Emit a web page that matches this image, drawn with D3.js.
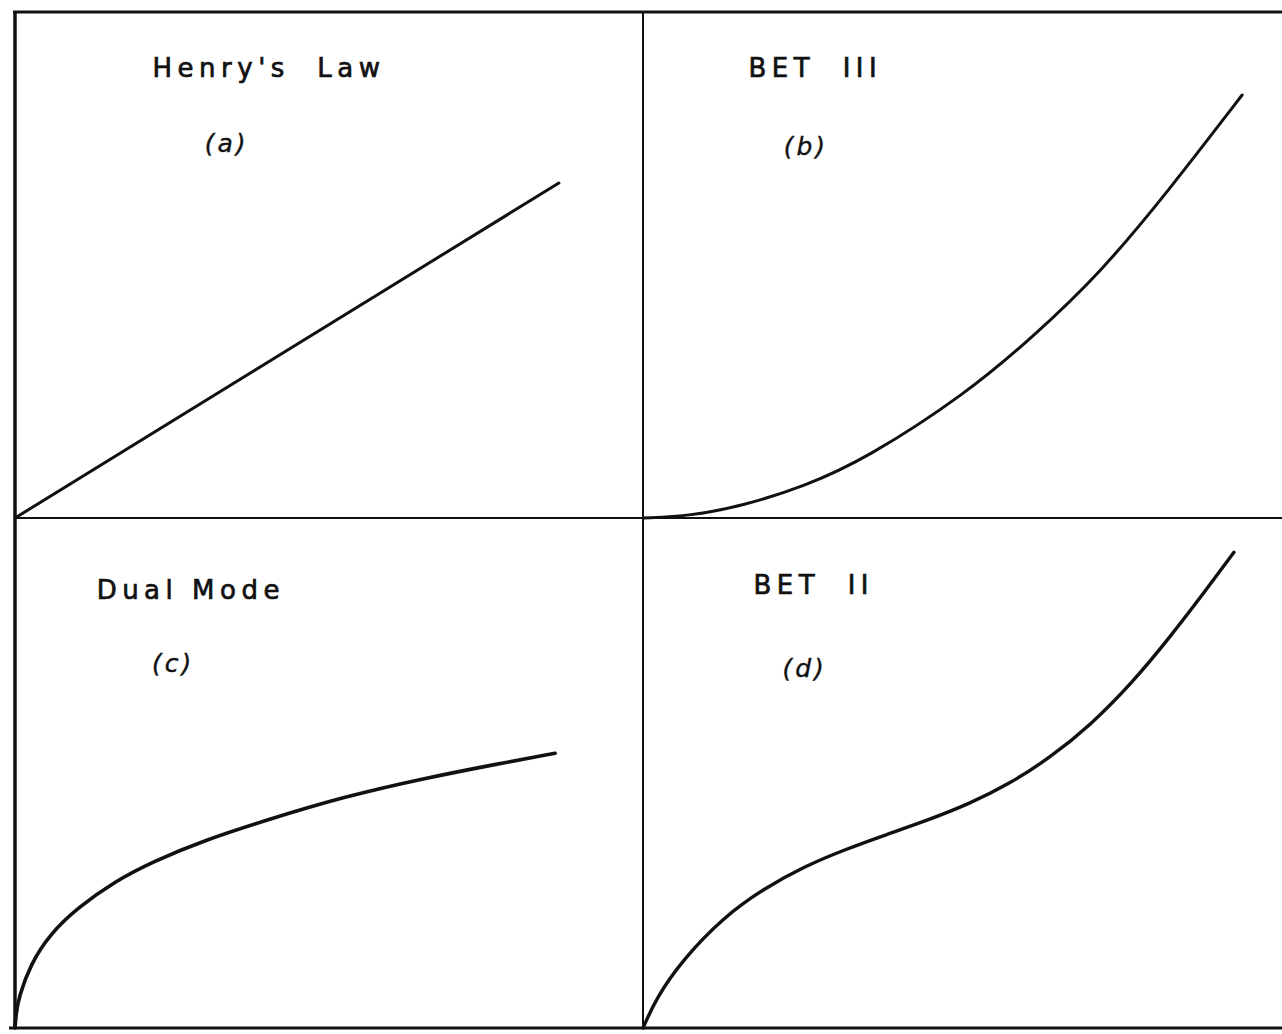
<!DOCTYPE html>
<html>
<head>
<meta charset="utf-8">
<script src="https://cdn.jsdelivr.net/npm/d3@7"></script>
<style>
  html, body { margin: 0; padding: 0; background: #fff; }
  svg { display: block; }
  .title { font-family: "DejaVu Sans", sans-serif; font-size: 26px; letter-spacing: 5.5px; fill: #111; stroke: #111; stroke-width: 0.7px; white-space: pre; }
  .tag { font-family: "DejaVu Sans", sans-serif; font-style: italic; font-size: 25px; letter-spacing: 3px; fill: #111; stroke: #111; stroke-width: 0.4px; white-space: pre; }
</style>
</head>
<body>
<svg id="chart" width="1282" height="1034"></svg>
<script>
// Sorption isotherm shapes: relative uptake vs. relative pressure (arbitrary units 0–10)

const panelIds = ["a", "b", "c", "d"];
const panelTitles = ["Henry's  Law", "BET  III", "Dual Mode", "BET  II"];
const panelTags = ["(a)", "(b)", "(c)", "(d)"];

// (a) Henry's law: linear
const henryX = [0, 8.66];
const henryY = [0, 6.62];

// (b) BET type III: convex from the origin
const bet3X = [0, 0.75, 1.59, 2.58, 3.55, 5.16, 6.21, 7.28, 8.34, 9.54];
const bet3Y = [0, 0.04, 0.24, 0.63, 1.17, 2.47, 3.58, 4.84, 6.42, 8.36];

// (c) Dual mode: concave, Langmuir + Henry
const dualX = [0, 0.02, 0.06, 0.25, 0.56, 0.99, 1.59, 2.20, 2.99, 4.03, 5.24, 6.46, 7.69, 8.60];
const dualY = [0, 0.30, 0.61, 1.27, 1.86, 2.37, 2.90, 3.29, 3.70, 4.12, 4.57, 4.92, 5.22, 5.43];

// (d) BET type II: sigmoidal
const bet2X = [0, 0.22, 0.62, 1.27, 1.93, 2.58, 3.22, 3.87, 4.52, 5.18, 5.83, 6.48, 7.13, 7.79, 8.42, 8.95, 9.41];
const bet2Y = [0, 0.61, 1.33, 2.18, 2.76, 3.20, 3.53, 3.82, 4.10, 4.42, 4.82, 5.34, 5.99, 6.82, 7.77, 8.63, 9.40];

const seriesX = [henryX, bet3X, dualX, bet2X];
const seriesY = [henryY, bet3Y, dualY, bet2Y];

// layout of the 2x2 grid
const gridLeft = 15, gridMid = 643, gridTop = 12, gridRow = 518, gridBottom = 1028;
const panelWidth = gridMid - gridLeft;

const svg = d3.select("#chart");

const panels = panelIds.map((id, i) => {
  const col = i % 2, row = Math.floor(i / 2);
  const x0 = col === 0 ? gridLeft : gridMid;
  const yBot = row === 0 ? gridRow : gridBottom;
  const x = d3.scaleLinear().domain([0, 10]).range([x0, x0 + panelWidth]);
  const y = d3.scaleLinear().domain([0, 10]).range([yBot, yBot - (gridRow - gridTop)]);
  return { id, i, x, y };
});

// frame
const frame = svg.append("g").attr("stroke", "#111").attr("fill", "none");
frame.append("line").attr("x1", gridLeft - 2).attr("x2", 1282).attr("y1", gridTop).attr("y2", gridTop).attr("stroke-width", 3);
frame.append("line").attr("x1", gridLeft).attr("x2", gridLeft).attr("y1", gridTop).attr("y2", gridBottom + 1).attr("stroke-width", 3.5);
frame.append("line").attr("x1", gridMid).attr("x2", gridMid).attr("y1", gridTop).attr("y2", gridBottom).attr("stroke-width", 2);
frame.append("line").attr("x1", gridLeft).attr("x2", 1282).attr("y1", gridRow).attr("y2", gridRow).attr("stroke-width", 2.2);
frame.append("line").attr("x1", gridLeft - 6).attr("x2", 1282).attr("y1", gridBottom).attr("y2", gridBottom).attr("stroke-width", 3);

// curves (smoothed B-spline through the read points)
const curveWidths = [3, 3, 3.6, 3.4];
panels.forEach(p => {
  const pts = seriesX[p.i].map((v, k) => [v, seriesY[p.i][k]]);
  const line = d3.line()
    .x(d => p.x(d[0]))
    .y(d => p.y(d[1]))
    .curve(p.i === 0 ? d3.curveLinear : d3.curveBasis);
  svg.append("path")
    .datum(pts)
    .attr("d", line)
    .attr("fill", "none")
    .attr("stroke", "#111")
    .attr("stroke-width", curveWidths[p.i])
    .attr("stroke-linecap", "round")
    .attr("stroke-linejoin", "round");
});

// labels (title and panel letter), placed in panel units
const titlePos = [[2.19, 8.72], [1.68, 8.72], [1.3, 8.48], [1.76, 8.57]];
const tagPos = [[3.02, 7.23], [2.24, 7.17], [2.18, 7.03], [2.22, 6.93]];
panels.forEach(p => {
  svg.append("text").attr("class", "title")
    .attr("x", p.x(titlePos[p.i][0])).attr("y", p.y(titlePos[p.i][1]))
    .text(panelTitles[p.i]);
  svg.append("text").attr("class", "tag")
    .attr("x", p.x(tagPos[p.i][0])).attr("y", p.y(tagPos[p.i][1]))
    .text(panelTags[p.i]);
});
</script>
</body>
</html>
